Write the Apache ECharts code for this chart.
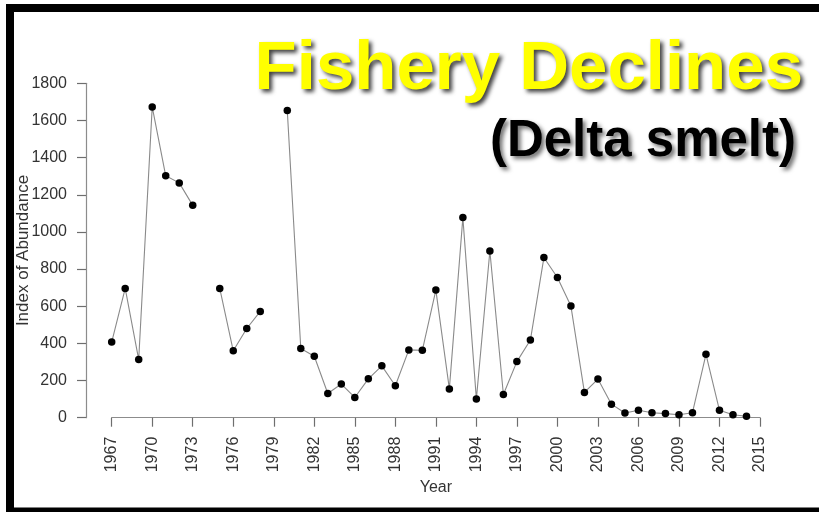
<!DOCTYPE html>
<html>
<head>
<meta charset="utf-8">
<script src="https://cdn.jsdelivr.net/npm/echarts@6/dist/echarts.min.js"></script>
<style>
html,body{margin:0;padding:0;background:#fff;}
#chart{width:819px;height:512px;}
</style>
</head>
<body>
<div id="chart"></div>
<script>
const years = ['1967','1968','1969','1970','1971','1972','1973','1974','1975','1976','1977','1978','1979','1980',
  '1981','1982','1983','1984','1985','1986','1987','1988','1989','1990','1991','1992','1993','1994','1995','1996',
  '1997','1998','1999','2000','2001','2002','2003','2004','2005','2006','2007','2008','2009','2010','2011','2012',
  '2013','2014','2015'];
const abundance = [407, 696, 313, 1673, 1302, 1264, 1143, null, 696, 360, 480, 572, null, 1654,
  372, 331, 130, 181, 109, 209, 279, 172, 365, 363, 687, 155, 1077, 100, 897, 125,
  302, 418, 862, 755, 601, 136, 208, 73, 25, 40, 27, 22, 16, 27, 341, 40,
  16, 8, null];
const yTicks = {min: 0, max: 1800, step: 200};
const titleText = 'Fishery Declines';
const subtitleText = '(Delta smelt)';
const xName = 'Year';
const yName = 'Index of Abundance';

const font = "'Liberation Sans', Arial, Helvetica, sans-serif";
const chart = echarts.init(document.getElementById('chart'), null, {renderer: 'canvas'});
chart.setOption({
  animation: false,
  backgroundColor: '#ffffff',
  title: [
    {
      text: titleText, right: 16, top: 35, padding: 0,
      textStyle: {fontFamily: font, fontSize: 69, fontWeight: 'bold', color: '#ffff00',
        textShadowColor: 'rgba(0,0,0,0.75)', textShadowBlur: 4, textShadowOffsetX: 3, textShadowOffsetY: 3}
    },
    {
      text: subtitleText, right: 23, top: 116, padding: 0,
      textStyle: {fontFamily: font, fontSize: 51, fontWeight: 'bold', color: '#000000',
        textShadowColor: 'rgba(0,0,0,0.55)', textShadowBlur: 4, textShadowOffsetX: 3, textShadowOffsetY: 3}
    }
  ],
  graphic: [
    {type: 'rect', shape: {x: 6, y: 4, width: 813, height: 8}, style: {fill: '#000'}, silent: true},
    {type: 'rect', shape: {x: 6, y: 4, width: 8, height: 508}, style: {fill: '#000'}, silent: true},
    {type: 'rect', shape: {x: 6, y: 507.5, width: 813, height: 5}, style: {fill: '#000'}, silent: true}
  ],
  grid: {left: 111.7, right: 59, top: 83.3, bottom: 94.3, containLabel: false, outerBoundsMode: 'none'},
  xAxis: {
    type: 'category',
    data: years,
    boundaryGap: false,
    name: xName,
    nameLocation: 'middle',
    nameGap: 62,
    nameMoveOverlap: false,
    nameTextStyle: {fontFamily: font, fontSize: 16, color: '#333'},
    axisLine: {lineStyle: {color: '#8c8c8c', width: 1.2}},
    axisTick: {interval: 2, length: 9, lineStyle: {color: '#6e6e6e', width: 1.2}},
    axisLabel: {interval: 2, rotate: 90, margin: 19, fontFamily: font, fontSize: 16, color: '#333'},
    splitLine: {show: false}
  },
  yAxis: {
    type: 'value',
    min: yTicks.min, max: yTicks.max, interval: yTicks.step,
    offset: 25.7,
    name: yName,
    nameLocation: 'middle',
    nameRotate: 90,
    nameGap: 54,
    nameMoveOverlap: false,
    nameTextStyle: {fontFamily: font, fontSize: 17, color: '#333'},
    axisLine: {show: true, lineStyle: {color: '#8c8c8c', width: 1.2}},
    axisTick: {show: true, length: 9, lineStyle: {color: '#6e6e6e', width: 1.2}},
    axisLabel: {margin: 19, fontFamily: font, fontSize: 16, color: '#333',
      formatter: function (v) { return String(v); }},
    splitLine: {show: false}
  },
  series: [{
    type: 'line',
    data: abundance,
    connectNulls: false,
    showAllSymbol: true,
    symbol: 'circle',
    symbolSize: 7.5,
    itemStyle: {color: '#000'},
    lineStyle: {color: '#8a8a8a', width: 1.1}
  }]
});
</script>
</body>
</html>
